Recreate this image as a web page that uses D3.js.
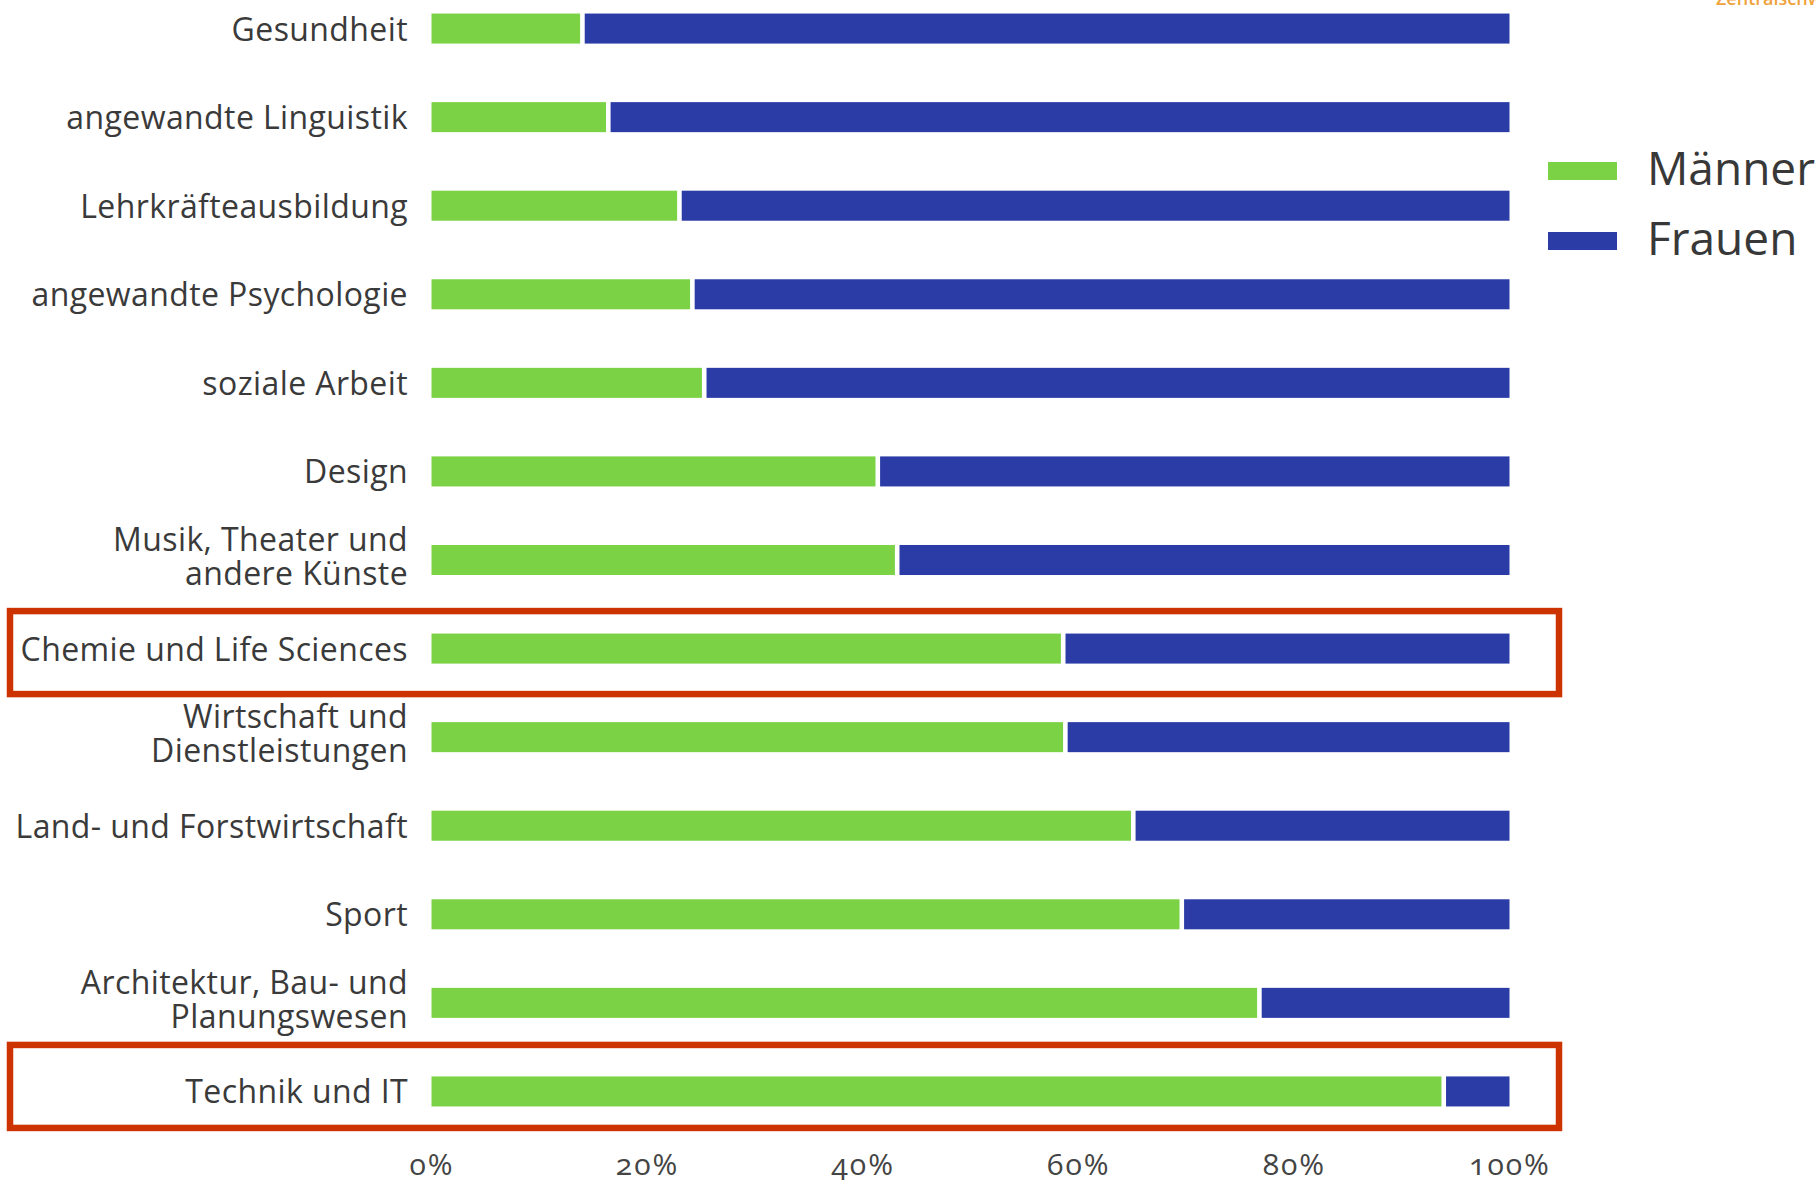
<!DOCTYPE html>
<html>
<head>
<meta charset="utf-8">
<script src="https://cdn.jsdelivr.net/npm/d3@7"></script>
<style>
  body { margin: 0; background: #fff; }
  svg { display: block; font-family: "Open Sans", sans-serif; }
</style>
</head>
<body>
<svg class="chart"></svg>
<script>
var categories = ["Gesundheit", "angewandte Linguistik", "Lehrkräfteausbildung", "angewandte Psychologie",
  "soziale Arbeit", "Design", "Musik, Theater und andere Künste", "Chemie und Life Sciences",
  "Wirtschaft und Dienstleistungen", "Land- und Forstwirtschaft", "Sport",
  "Architektur, Bau- und Planungswesen", "Technik und IT"];

var labelLines = [["Gesundheit"], ["angewandte Linguistik"], ["Lehrkräfteausbildung"], ["angewandte Psychologie"],
  ["soziale Arbeit"], ["Design"], ["Musik, Theater und", "andere Künste"], ["Chemie und Life Sciences"],
  ["Wirtschaft und", "Dienstleistungen"], ["Land- und Forstwirtschaft"], ["Sport"],
  ["Architektur, Bau- und", "Planungswesen"], ["Technik und IT"]];

// percent share per category
var maenner = [14.0, 16.4, 23.0, 24.2, 25.3, 41.4, 43.2, 58.6, 58.8, 65.1, 69.6, 76.8, 93.9];
var frauen  = [86.0, 83.6, 77.0, 75.8, 74.7, 58.6, 56.8, 41.4, 41.2, 34.9, 30.4, 23.2, 6.1];

var series = ["Männer", "Frauen"];
var tickValues = [0, 20, 40, 60, 80, 100];
var highlighted = ["Chemie und Life Sciences", "Technik und IT"];

var width = 1816, height = 1182;
var colors = {"Männer": "#7bd245", "Frauen": "#2b3ca6"};

var svg = d3.select(".chart")
    .attr("width", width)
    .attr("height", height);

var x = d3.scaleLinear()
    .domain([0, 100])
    .range([431.5, 1509.5]);

var y = d3.scaleBand()
    .domain(categories)
    .range([-45, 1165])
    .padding(0.661);

var gap = 2.3;

var rows = categories.map(function(c, i) {
  return {cat: c, m: maenner[i], f: frauen[i], lines: labelLines[i]};
});

// highlight boxes
var boxShift = {"Chemie und Life Sciences": 4, "Technik und IT": -5};
svg.selectAll(".hl")
    .data(highlighted)
  .enter().append("rect")
    .attr("class", "hl")
    .attr("x", 10)
    .attr("width", 1549)
    .attr("y", function(d) { return y(d) + y.bandwidth() / 2 + boxShift[d] - 41.5; })
    .attr("height", 83)
    .attr("fill", "none")
    .attr("stroke", "#cc3300")
    .attr("stroke-width", 6.5);

var bars = svg.append("g");

bars.selectAll(".m")
    .data(rows)
  .enter().append("rect")
    .attr("class", "m")
    .attr("x", x(0))
    .attr("y", function(d) { return y(d.cat); })
    .attr("width", function(d) { return x(d.m) - x(0) - gap; })
    .attr("height", y.bandwidth())
    .attr("fill", colors["Männer"]);

bars.selectAll(".f")
    .data(rows)
  .enter().append("rect")
    .attr("class", "f")
    .attr("x", function(d) { return x(d.m) + gap; })
    .attr("y", function(d) { return y(d.cat); })
    .attr("width", function(d) { return x(d.m + d.f) - x(d.m) - gap; })
    .attr("height", y.bandwidth())
    .attr("fill", colors["Frauen"]);

// category labels
var labels = svg.append("g")
    .attr("font-size", 32)
    .attr("letter-spacing", 0.4)
    .attr("fill", "#3a3a3a")
    .attr("text-anchor", "end");

labels.selectAll("text")
    .data(rows)
  .enter().append("text")
    .attr("x", 408)
    .attr("y", function(d) { return y(d.cat) + y.bandwidth() / 2; })
    .each(function(d) {
      var t = d3.select(this);
      var cy = y(d.cat) + y.bandwidth() / 2;
      if (d.lines.length == 1) {
        t.append("tspan").attr("x", 408).attr("y", cy + 12).text(d.lines[0]);
      } else {
        t.append("tspan").attr("x", 408).attr("y", cy - 9).text(d.lines[0]);
        t.append("tspan").attr("x", 408).attr("y", cy + 25).text(d.lines[1]);
      }
    });

// x axis
var xAxis = d3.axisBottom(x)
    .tickValues(tickValues)
    .tickSize(0)
    .tickFormat(function(d) { return d + "%"; });

var axis = svg.append("g")
    .attr("transform", "translate(0,1150)")
    .call(xAxis);

axis.select(".domain").remove();
axis.selectAll("text")
    .attr("y", 0)
    .attr("dy", 25)
    .attr("font-family", "Open Sans, sans-serif")
    .attr("font-size", 30)
    .attr("letter-spacing", 2)
    .attr("fill", "#444")
    .style("font-variant-numeric", "oldstyle-nums");

// legend
var legend = svg.append("g")
    .attr("transform", "translate(1548,162)");

var li = legend.selectAll("g")
    .data(series)
  .enter().append("g")
    .attr("transform", function(d, i) { return "translate(0," + (i * 70) + ")"; });

li.append("rect")
    .attr("width", 69)
    .attr("height", 18)
    .attr("fill", function(d) { return colors[d]; });

li.append("text")
    .attr("x", 99)
    .attr("y", 23)
    .attr("font-size", 46)
    .attr("fill", "#383838")
    .text(function(d) { return d; });

// cut-off source mark at top right
svg.append("text")
    .attr("x", 1716)
    .attr("y", 5)
    .attr("font-size", 18)
    .attr("font-weight", 600)
    .attr("fill", "#f0a23a")
    .text("Zentralschweiz");
</script>
</body>
</html>
